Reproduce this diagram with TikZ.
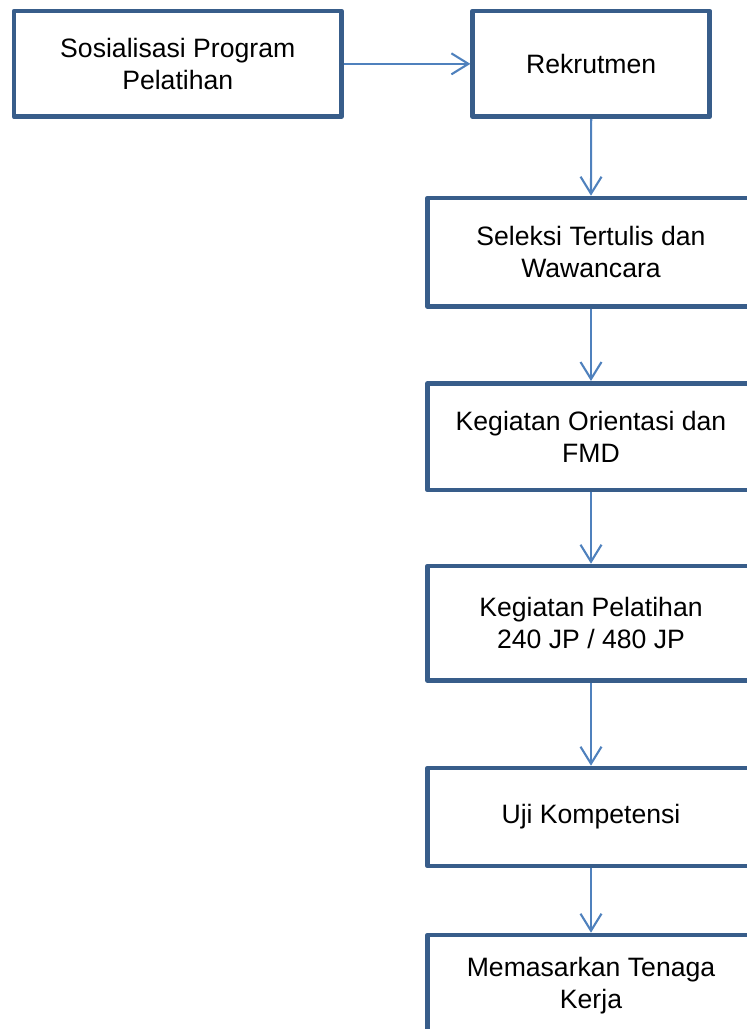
\documentclass[tikz,border=0pt]{standalone}
\usepackage{fontspec}
\setmainfont{Liberation Sans}
\usetikzlibrary{arrows.meta}
\definecolor{boxblue}{HTML}{385D8A}
\definecolor{arrowblue}{HTML}{4F81BD}
\begin{document}
\begin{tikzpicture}[x=1pt,y=-1pt,
  stepbox/.style={draw=boxblue, line width=4.6pt, line join=round, rectangle, inner sep=0pt,
    align=center, font=\fontsize{26.6pt}{32pt}\selectfont, text=black},
  flow/.style={draw=arrowblue, line width=2.1pt, -{Straight Barb[length=17pt,width=21pt,line width=2.1pt]}},
  lbl/.style={align=center, font=\fontsize{26.6pt}{32pt}\selectfont, text=black, inner sep=0pt}]
\useasboundingbox (0,0) rectangle (747,1029);
\clip (0,0) rectangle (747,1029);
\node[stepbox, minimum width=327.5pt, minimum height=105.7pt] (b1) at (177.75,63.85) {Sosialisasi Program\\Pelatihan};
\node[stepbox, minimum width=237pt, minimum height=105.7pt] (b2) at (591.2,63.85) {Rekrutmen};
\node[stepbox, minimum width=327pt, minimum height=108.5pt] (b3) at (591,252.25) {Seleksi Tertulis dan\\Wawancara};
\node[stepbox, minimum width=327pt, minimum height=106.7pt] (b4) at (591,436.65) {Kegiatan Orientasi dan\\FMD};
\node[stepbox, minimum width=327pt, minimum height=114.5pt] (b5) at (591,623.25) {Kegiatan Pelatihan\\240 JP / 480 JP};
\node[stepbox, minimum width=327pt, minimum height=98pt] (b6) at (591,817) {Uji Kompetensi};
\node[stepbox, minimum width=327pt, minimum height=110pt] (b7) at (591,990) {};
\node[lbl] (t7) at (591,986) {Memasarkan Tenaga\\Kerja};
\draw[flow] (b1.east) -- (b2.west);
\draw[flow] (b2.south) -- (b3.north);
\draw[flow] (b3.south) -- (b4.north);
\draw[flow] (b4.south) -- (b5.north);
\draw[flow] (b5.south) -- (b6.north);
\draw[flow] (b6.south) -- (b7.north);
\end{tikzpicture}
\end{document}
